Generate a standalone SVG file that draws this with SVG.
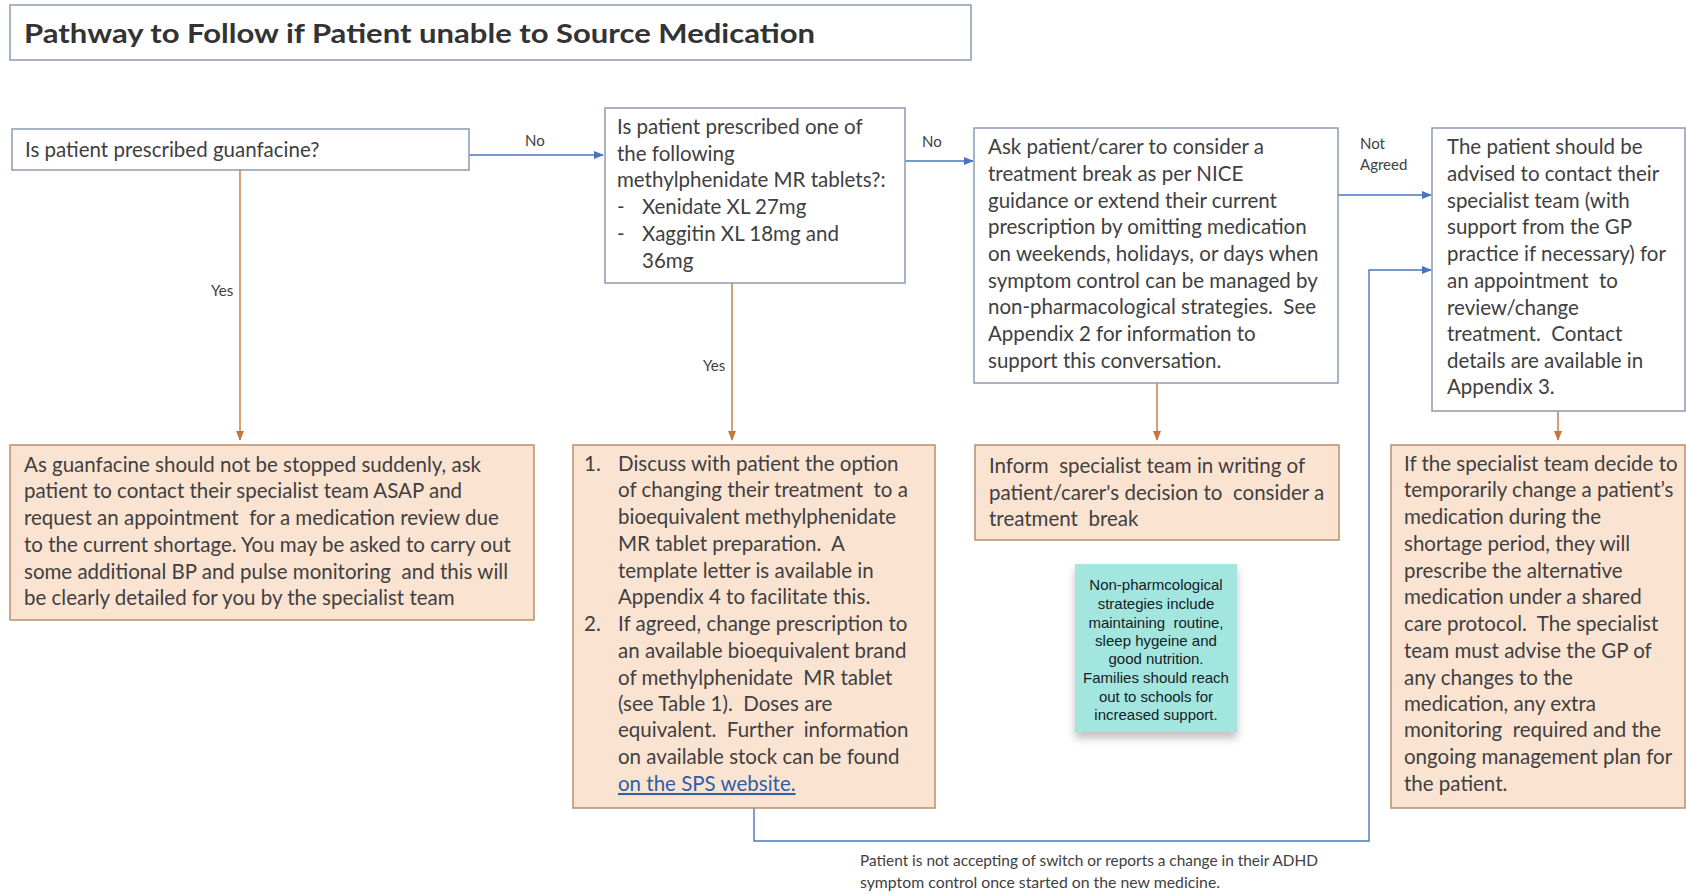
<svg xmlns="http://www.w3.org/2000/svg" width="1686" height="894" viewBox="0 0 1686 894">
<style>
  .bx{fill:#ffffff;stroke:#8a9bb4;stroke-width:1.5}
  .pk{fill:#fbe3d2;stroke:#bd8d68;stroke-width:1.5}
  .t{font-family:Lato,"Open Sans","Liberation Sans",sans-serif;font-size:20.5px;fill:#404040;white-space:pre}
  .title{font-family:Lato,"Open Sans","Liberation Sans",sans-serif;font-size:27px;font-weight:bold;fill:#333333}
  .lb{font-family:Lato,"Open Sans","Liberation Sans",sans-serif;font-size:15px;fill:#404040}
  .note{font-family:"Liberation Sans",Arial,sans-serif;font-size:15px;fill:#16201f;text-anchor:middle;white-space:pre}
  .blue{fill:none;stroke:#4a74bd;stroke-width:1.4}
  .org{fill:none;stroke:#c4773b;stroke-width:1.4}
  .link{fill:#2e5ea8;text-decoration:underline}
</style>
<defs>
  <marker id="ab" markerUnits="userSpaceOnUse" markerWidth="10" markerHeight="8" refX="9" refY="4" orient="auto">
    <path d="M0,0 L10,4 L0,8 z" fill="#4a74bd"/>
  </marker>
  <marker id="ao" markerUnits="userSpaceOnUse" markerWidth="10" markerHeight="8" refX="9" refY="4" orient="auto">
    <path d="M0,0 L10,4 L0,8 z" fill="#c4773b"/>
  </marker>
  <filter id="sh" x="-20%" y="-20%" width="140%" height="150%">
    <feDropShadow dx="0" dy="6" stdDeviation="4" flood-color="#000000" flood-opacity="0.25"/>
  </filter>
</defs>
<rect width="1686" height="894" fill="#ffffff"/>

<g id="title">
  <rect class="bx" x="10" y="5" width="961" height="55"/>
  <text class="title" x="24" y="43" textLength="791" lengthAdjust="spacingAndGlyphs">Pathway to Follow if Patient unable to Source Medication</text>
</g>

<g id="connectors">
  <path class="blue" d="M469,155 H603" marker-end="url(#ab)"/>
  <text class="lb" x="525" y="146">No</text>
  <path class="blue" d="M905,161 H973" marker-end="url(#ab)"/>
  <text class="lb" x="922" y="147">No</text>
  <path class="blue" d="M1338,195 H1431" marker-end="url(#ab)"/>
  <text class="lb" x="1360" y="149">Not</text>
  <text class="lb" x="1360" y="170">Agreed</text>
  <path class="blue" d="M754,808 V841 H1369 V270 H1431" marker-end="url(#ab)"/>
  <path class="org" d="M240,170 V440" marker-end="url(#ao)"/>
  <text class="lb" x="211" y="296">Yes</text>
  <path class="org" d="M732,283 V440" marker-end="url(#ao)"/>
  <text class="lb" x="703" y="371">Yes</text>
  <path class="org" d="M1157,383 V440" marker-end="url(#ao)"/>
  <path class="org" d="M1558,411 V440" marker-end="url(#ao)"/>
  <text class="lb" x="860" y="866" textLength="458" lengthAdjust="spacingAndGlyphs">Patient is not accepting of switch or reports a change in their ADHD</text>
  <text class="lb" x="860" y="888" textLength="360" lengthAdjust="spacingAndGlyphs">symptom control once started on the new medicine.</text>
</g>

<g id="q-guanfacine">
  <rect class="bx" x="12" y="129" width="457" height="41"/>
  <text class="t" x="25" y="157">Is patient prescribed guanfacine?</text>
</g>

<g id="q-methylphenidate">
  <rect class="bx" x="605" y="108" width="300" height="175"/>
  <text class="t" x="617" y="134">Is patient prescribed one of</text>
  <text class="t" x="617" y="161">the following</text>
  <text class="t" x="617" y="187">methylphenidate MR tablets?:</text>
  <text class="t" x="617" y="214">-</text>
  <text class="t" x="642" y="214">Xenidate XL 27mg</text>
  <text class="t" x="617" y="241">-</text>
  <text class="t" x="642" y="241">Xaggitin XL 18mg and</text>
  <text class="t" x="642" y="268">36mg</text>
</g>

<g id="treatment-break">
  <rect class="bx" x="974" y="128" width="364" height="255"/>
  <text class="t" x="988" y="154">Ask patient/carer to consider a</text>
  <text class="t" x="988" y="181">treatment break as per NICE</text>
  <text class="t" x="988" y="208">guidance or extend their current</text>
  <text class="t" x="988" y="234">prescription by omitting medication</text>
  <text class="t" x="988" y="261">on weekends, holidays, or days when</text>
  <text class="t" x="988" y="288">symptom control can be managed by</text>
  <text class="t" x="988" y="314">non-pharmacological strategies.  See</text>
  <text class="t" x="988" y="341">Appendix 2 for information to</text>
  <text class="t" x="988" y="368">support this conversation.</text>
</g>

<g id="contact-specialist">
  <rect class="bx" x="1432" y="128" width="253" height="283"/>
  <text class="t" x="1447" y="154">The patient should be</text>
  <text class="t" x="1447" y="181">advised to contact their</text>
  <text class="t" x="1447" y="208">specialist team (with</text>
  <text class="t" x="1447" y="234">support from the GP</text>
  <text class="t" x="1447" y="261">practice if necessary) for</text>
  <text class="t" x="1447" y="288">an appointment  to</text>
  <text class="t" x="1447" y="315">review/change</text>
  <text class="t" x="1447" y="341">treatment.  Contact</text>
  <text class="t" x="1447" y="368">details are available in</text>
  <text class="t" x="1447" y="394">Appendix 3.</text>
</g>

<g id="guanfacine-action">
  <rect class="pk" x="10" y="445" width="524" height="175"/>
  <text class="t" x="24" y="472">As guanfacine should not be stopped suddenly, ask</text>
  <text class="t" x="24" y="498">patient to contact their specialist team ASAP and</text>
  <text class="t" x="24" y="525">request an appointment  for a medication review due</text>
  <text class="t" x="24" y="552">to the current shortage. You may be asked to carry out</text>
  <text class="t" x="24" y="579">some additional BP and pulse monitoring  and this will</text>
  <text class="t" x="24" y="605">be clearly detailed for you by the specialist team</text>
</g>

<g id="switch-action">
  <rect class="pk" x="573" y="445" width="362" height="363"/>
  <text class="t" x="584" y="471">1.</text>
  <text class="t" x="618" y="471">Discuss with patient the option</text>
  <text class="t" x="618" y="497">of changing their treatment  to a</text>
  <text class="t" x="618" y="524">bioequivalent methylphenidate</text>
  <text class="t" x="618" y="551">MR tablet preparation.  A</text>
  <text class="t" x="618" y="578">template letter is available in</text>
  <text class="t" x="618" y="604">Appendix 4 to facilitate this.</text>
  <text class="t" x="584" y="631">2.</text>
  <text class="t" x="618" y="631">If agreed, change prescription to</text>
  <text class="t" x="618" y="658">an available bioequivalent brand</text>
  <text class="t" x="618" y="685">of methylphenidate  MR tablet</text>
  <text class="t" x="618" y="711">(see Table 1).  Doses are</text>
  <text class="t" x="618" y="737">equivalent.  Further  information</text>
  <text class="t" x="618" y="764">on available stock can be found</text>
  <text class="t link" x="618" y="791">on the SPS website.</text>
</g>

<g id="inform-specialist">
  <rect class="pk" x="975" y="445" width="364" height="95"/>
  <text class="t" x="989" y="473">Inform  specialist team in writing of</text>
  <text class="t" x="989" y="500">patient/carer's decision to  consider a</text>
  <text class="t" x="989" y="526">treatment  break</text>
</g>

<g id="note">
  <rect x="1075" y="564" width="162" height="168" fill="#a3e6df" filter="url(#sh)"/>
  <text class="note" x="1156" y="590">Non-pharmcological</text>
  <text class="note" x="1156" y="609">strategies include</text>
  <text class="note" x="1156" y="628">maintaining  routine,</text>
  <text class="note" x="1156" y="646">sleep hygeine and</text>
  <text class="note" x="1156" y="664">good nutrition.</text>
  <text class="note" x="1156" y="683">Families should reach</text>
  <text class="note" x="1156" y="702">out to schools for</text>
  <text class="note" x="1156" y="720">increased support.</text>
</g>

<g id="specialist-change">
  <rect class="pk" x="1391" y="445" width="294" height="363"/>
  <text class="t" x="1404" y="471">If the specialist team decide to</text>
  <text class="t" x="1404" y="497">temporarily change a patient’s</text>
  <text class="t" x="1404" y="524">medication during the</text>
  <text class="t" x="1404" y="551">shortage period, they will</text>
  <text class="t" x="1404" y="578">prescribe the alternative</text>
  <text class="t" x="1404" y="604">medication under a shared</text>
  <text class="t" x="1404" y="631">care protocol.  The specialist</text>
  <text class="t" x="1404" y="658">team must advise the GP of</text>
  <text class="t" x="1404" y="685">any changes to the</text>
  <text class="t" x="1404" y="711">medication, any extra</text>
  <text class="t" x="1404" y="737">monitoring  required and the</text>
  <text class="t" x="1404" y="764">ongoing management plan for</text>
  <text class="t" x="1404" y="791">the patient.</text>
</g>
</svg>
